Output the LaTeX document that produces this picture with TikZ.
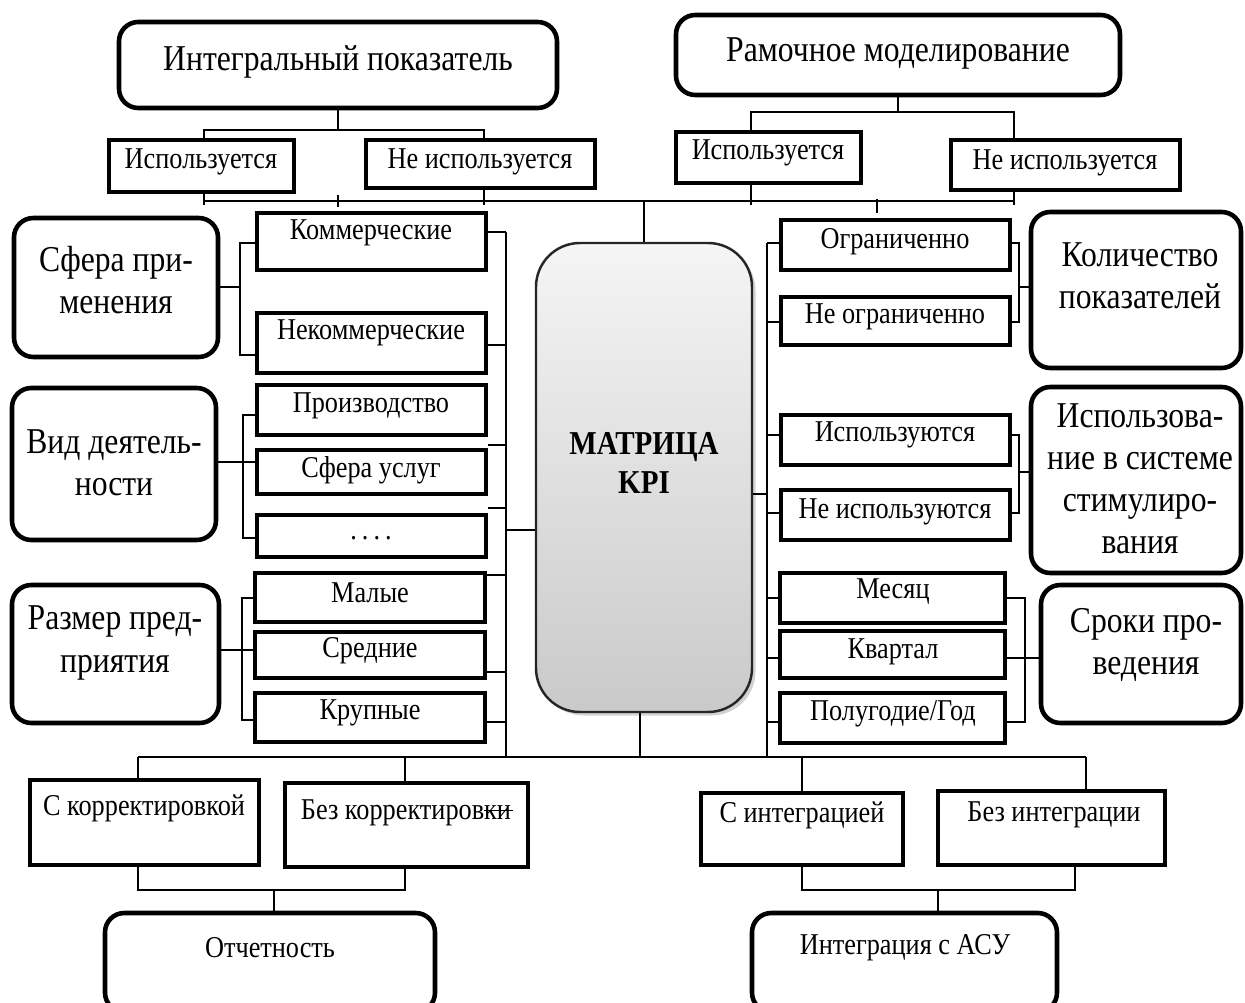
\documentclass[tikz,border=0pt]{standalone}
\usepackage{fontspec}
\setmainfont{Liberation Serif}[FakeStretch=0.87]
\usetikzlibrary{fit,shadows}
\tikzset{
  sq/.style={draw, line width=2.6pt, inner sep=0pt, fill=white},
  rd/.style={draw, line width=2.6pt, inner sep=0pt, rounded corners=11pt, fill=white},
  kpibox/.style={draw=black!85, line width=1.4pt, inner sep=0pt, rounded corners=25pt,
     top color=gray!8, bottom color=gray!42,
     drop shadow={opacity=0.35, shadow xshift=2pt, shadow yshift=-2pt}},
  ln/.style={line width=1.1pt},
  st/.style={inner sep=0pt, align=center, font=\fontsize{17.2}{20}\selectfont},
  bt/.style={inner sep=0pt, align=center, font=\fontsize{20.7}{24}\selectfont},
  kt/.style={inner sep=0pt, align=center, font=\fontsize{19}{22.7}\selectfont\bfseries},
}
\newcommand{\bx}[6]{\node[#1, fit={(#3,#4) (#5,#6)}] (#2) {};}
\begin{document}
\begin{tikzpicture}[x=0.02cm,y=-0.02cm]
\useasboundingbox (0,0) rectangle (1245,1003);

% ---------- boxes ----------
\bx{rd}{A}{119}{22}{557}{108}
\node[bt] (A-t) at (338,62) {Интегральный показатель};
\bx{rd}{B}{676}{15}{1120}{95}
\node[bt] (B-t) at (898,53) {Рамочное моделирование};

\bx{sq}{iu1}{109}{140}{294}{192}
\node[st] (iu1-t) at (201,162) {Используется};
\bx{sq}{niu1}{366}{140}{595}{188}
\node[st] (niu1-t) at (480,162) {Не используется};
\bx{sq}{iu2}{676}{132}{861}{183}
\node[st] (iu2-t) at (768,153) {Используется};
\bx{sq}{niu2}{951}{140}{1180}{190}
\node[st] (niu2-t) at (1065,163) {Не используется};

\bx{rd}{sfera}{14}{218}{218}{357}
\node[bt] (sfera-t) at (116,280) {Сфера при-\\менения};
\bx{rd}{vid}{12}{388}{216}{540}
\node[bt] (vid-t) at (114,463) {Вид деятель-\\ности};
\bx{rd}{razm}{12}{585}{219}{723}
\node[bt] (razm-t) at (115,643) {Размер пред-\\приятия};

\bx{sq}{kom}{257}{213}{486}{270}
\node[st] (kom-t) at (371,233) {Коммерческие};
\bx{sq}{nekom}{257}{313}{486}{373}
\node[st] (nekom-t) at (371,333) {Некоммерческие};
\bx{sq}{proiz}{257}{385}{486}{435}
\node[st] (proiz-t) at (371,406) {Производство};
\bx{sq}{usl}{257}{450}{486}{494}
\node[st] (usl-t) at (371,470) {Сфера услуг};
\bx{sq}{dots}{257}{515}{486}{557}
\node[st] (dots-t) at (371,538) {.\,.\,.\,.};
\bx{sq}{maly}{255}{573}{485}{622}
\node[st] (maly-t) at (370,593) {Малые};
\bx{sq}{sred}{255}{632}{485}{678}
\node[st] (sred-t) at (370,651) {Средние};
\bx{sq}{krup}{255}{693}{485}{742}
\node[st] (krup-t) at (370,713) {Крупные};

\bx{kpibox}{KPI}{536}{243}{752}{712}
\node[kt] (KPI-t) at (644,463) {МАТРИЦА\\KPI};

\bx{sq}{ogr}{781}{220}{1010}{270}
\node[st] (ogr-t) at (895,242) {Ограниченно};
\bx{sq}{neogr}{781}{297}{1010}{345}
\node[st] (neogr-t) at (895,317) {Не ограниченно};
\bx{sq}{isp}{781}{415}{1010}{465}
\node[st] (isp-t) at (895,435) {Используются};
\bx{sq}{neisp}{781}{490}{1010}{540}
\node[st] (neisp-t) at (895,512) {Не используются};
\bx{sq}{mes}{780}{573}{1005}{623}
\node[st] (mes-t) at (893,592) {Месяц};
\bx{sq}{kvar}{780}{631}{1005}{678}
\node[st] (kvar-t) at (893,652) {Квартал};
\bx{sq}{pol}{780}{693}{1005}{743}
\node[st] (pol-t) at (893,714) {Полугодие/Год};

\bx{rd}{kol}{1031}{212}{1241}{368}
\node[bt] (kol-t) at (1140,276) {Количество\\показателей};
\bx{rd}{ispz}{1031}{387}{1241}{573}
\node[bt] (ispz-t) at (1140,479) {Использова-\\ние в системе\\стимулиро-\\вания};
\bx{rd}{sroki}{1041}{585}{1241}{723}
\node[bt] (sroki-t) at (1146,645) {Сроки про-\\ведения};

\bx{sq}{cor1}{30}{780}{259}{865}
\node[st] (cor1-t) at (144,808) {С корректировкой};
\bx{sq}{cor2}{285}{783}{528}{867}
\node[st] (cor2-t) at (406,813) {Без корректиров\rlap{\rule[0.3em]{0.95em}{0.6pt}}ки};
\bx{sq}{int1}{701}{793}{903}{865}
\node[st] (int1-t) at (802,815) {С интеграцией};
\bx{sq}{int2}{938}{791}{1165}{865}
\node[st] (int2-t) at (1054,815) {Без интеграции};

\bx{rd}{rep}{105}{913}{435}{1012}
\node[st] (rep-t) at (270,948) {Отчетность};
\bx{rd}{asu}{752}{913}{1057}{1012}
\node[st] (asu-t) at (905,948) {Интеграция с АСУ};

% ---------- top connectors ----------
\coordinate (tlh) at (338,130);
\draw[ln] (A.south) -- (tlh);
\draw[ln] (iu1.north -| 204,0) |- (tlh) -| (niu1.north -| 484,0);
\coordinate (trh) at (898,112);
\draw[ln] (B.south) -- (trh);
\draw[ln] (iu2.north -| 751,0) |- (trh) -| (niu2.north -| 1014,0);

\coordinate (mid) at (644,201);
\draw[ln] (iu1.south -| 204,0) -- (204,205);
\draw[ln] (niu1.south -| 484,0) -- (484,205);
\draw[ln] (iu2.south -| 751,0) -- (751,205);
\draw[ln] (niu2.south -| 1014,0) -- (1014,205);
\draw[ln] (204,201) -- (mid) -- (1014,201);
\draw[ln] (A.south |- 0,195) -- (A.south |- 0,207);
\draw[ln] (KPI.north) -- (KPI.north |- mid);
\draw[ln] (ogr.north -| 877,0) ++(0,-19) -- ++(0,14);

% ---------- left bus ----------
\coordinate (lbus) at (506,0);
\draw[ln] (lbus |- 0,232) -- (lbus |- 0,757);
\draw[ln] (kom.east |- 0,232) -- (lbus |- 0,232);
\draw[ln] (nekom.east |- 0,345) -- (lbus |- 0,345);
\draw[ln] (proiz.east |- 0,445) -- (lbus |- 0,445);
\draw[ln] (usl.east |- 0,508) -- (lbus |- 0,508);
\draw[ln] (lbus |- 0,530) -- (KPI.west |- 0,530);
\draw[ln] (maly.east |- 0,575) -- (lbus |- 0,575);
\draw[ln] (sred.east |- 0,672) -- (lbus |- 0,672);
\draw[ln] (krup.east |- 0,722) -- (lbus |- 0,722);

% ---------- right bus ----------
\coordinate (rbus) at (767,0);
\draw[ln] (rbus |- 0,243) -- (rbus |- 0,757);
\draw[ln] (rbus |- 0,243) -- (ogr.west |- 0,243);
\draw[ln] (rbus |- 0,322) -- (neogr.west |- 0,322);
\draw[ln] (rbus |- 0,435) -- (isp.west |- 0,435);
\draw[ln] (rbus |- 0,513) -- (neisp.west |- 0,513);
\draw[ln] (KPI.east |- 0,494) -- (rbus |- 0,494);
\draw[ln] (rbus |- 0,598) -- (mes.west |- 0,598);
\draw[ln] (rbus |- 0,658) -- (kvar.west |- 0,658);
\draw[ln] (rbus |- 0,722) -- (pol.west |- 0,722);

% ---------- left brackets ----------
\draw[ln] (kom.west |- 0,243) -| (240,355) -- (nekom.west |- 0,355);
\draw[ln] (sfera.east |- 0,287) -- (240,287);
\draw[ln] (proiz.west |- 0,415) -| (243,538) -- (dots.west |- 0,538);
\draw[ln] (vid.east |- 0,462) -- (usl.west |- 0,462);
\draw[ln] (maly.west |- 0,598) -| (242,720) -- (krup.west |- 0,720);
\draw[ln] (razm.east |- 0,650) -- (sred.west |- 0,650);

% ---------- right brackets ----------
\draw[ln] (ogr.east |- 0,243) -| (1019,322) -- (neogr.east |- 0,322);
\draw[ln] (1019,287) -- (kol.west |- 0,287);
\draw[ln] (isp.east |- 0,435) -| (1019,513) -- (neisp.east |- 0,513);
\draw[ln] (1019,472) -- (ispz.west |- 0,472);
\draw[ln] (mes.east |- 0,598) -| (1025,722) -- (pol.east |- 0,722);
\draw[ln] (kvar.east |- 0,658) -- (sroki.west |- 0,658);

% ---------- bottom ----------
\draw[ln] (138,757) -- (1086,757);
\draw[ln] (KPI.south -| 640,0) -- (640,757);
\draw[ln] (138,757) -- (cor1.north -| 138,0);
\draw[ln] (405,757) -- (cor2.north -| 405,0);
\draw[ln] (802,757) -- (int1.north -| 802,0);
\draw[ln] (1086,757) -- (int2.north -| 1086,0);

\draw[ln] (cor1.south -| 138,0) |- (274,890) -| (cor2.south -| 405,0);
\draw[ln] (274,890) -- (rep.north -| 274,0);
\draw[ln] (int1.south -| 802,0) |- (938,890) -| (int2.south -| 1075,0);
\draw[ln] (938,890) -- (asu.north -| 938,0);
\end{tikzpicture}
\end{document}
